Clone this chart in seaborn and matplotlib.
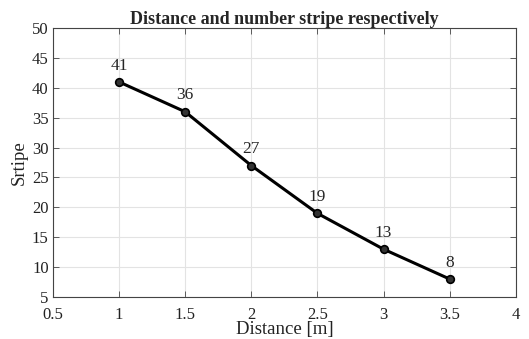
import seaborn as sns
import matplotlib.pyplot as plt
import pandas as pd

distance = [1, 1.5, 2, 2.5, 3, 3.5]
stripes = [41, 36, 27, 19, 13, 8]
x_ticks = [0.5, 1, 1.5, 2, 2.5, 3, 3.5, 4]
y_ticks = [5, 10, 15, 20, 25, 30, 35, 40, 45, 50]

df = pd.DataFrame({"Distance": distance, "Stripe": stripes})

sns.set_style("whitegrid")
plt.rcParams["font.family"] = ["Liberation Serif", "DejaVu Serif"]

fig = plt.figure(figsize=(5.29, 3.39), dpi=100)
ax = fig.add_axes([0.100, 0.124, 0.875, 0.793])

sns.lineplot(
    data=df, x="Distance", y="Stripe", ax=ax,
    color="black", linewidth=2.2,
    marker="o", markersize=5.5,
    markerfacecolor="#333333", markeredgecolor="black", markeredgewidth=1.2
)

for xv, yv in zip(distance, stripes):
    ax.annotate(str(yv), (xv, yv), xytext=(0, 6), textcoords="offset points",
                ha="center", va="bottom", fontsize=12.5)

ax.set_xlim(0.5, 4)
ax.set_ylim(5, 50)
ax.set_xticks(x_ticks)
ax.set_xticklabels([f"{v:g}" for v in x_ticks])
ax.set_yticks(y_ticks)

ax.grid(True, color="#e3e3e3", linewidth=0.8)
for s in ax.spines.values():
    s.set_visible(True)
    s.set_color("#444444")
    s.set_linewidth(0.8)

ax.tick_params(direction="in", length=4, width=0.6, color="#444444",
               top=True, right=True, left=True, bottom=True,
               labelsize=12, labelcolor="#222222")
ax.tick_params(axis="x", pad=7)
ax.tick_params(axis="y", pad=3)

ax.set_xlabel("Distance [m]", fontsize=13.5, color="#222222", labelpad=-1)
ax.set_ylabel("Srtipe", fontsize=13.5, color="#222222", labelpad=3)
ax.set_title("Distance and number stripe respectively", fontsize=13,
             fontweight="bold", pad=3)

plt.savefig("out.png", dpi=100)
plt.close()
